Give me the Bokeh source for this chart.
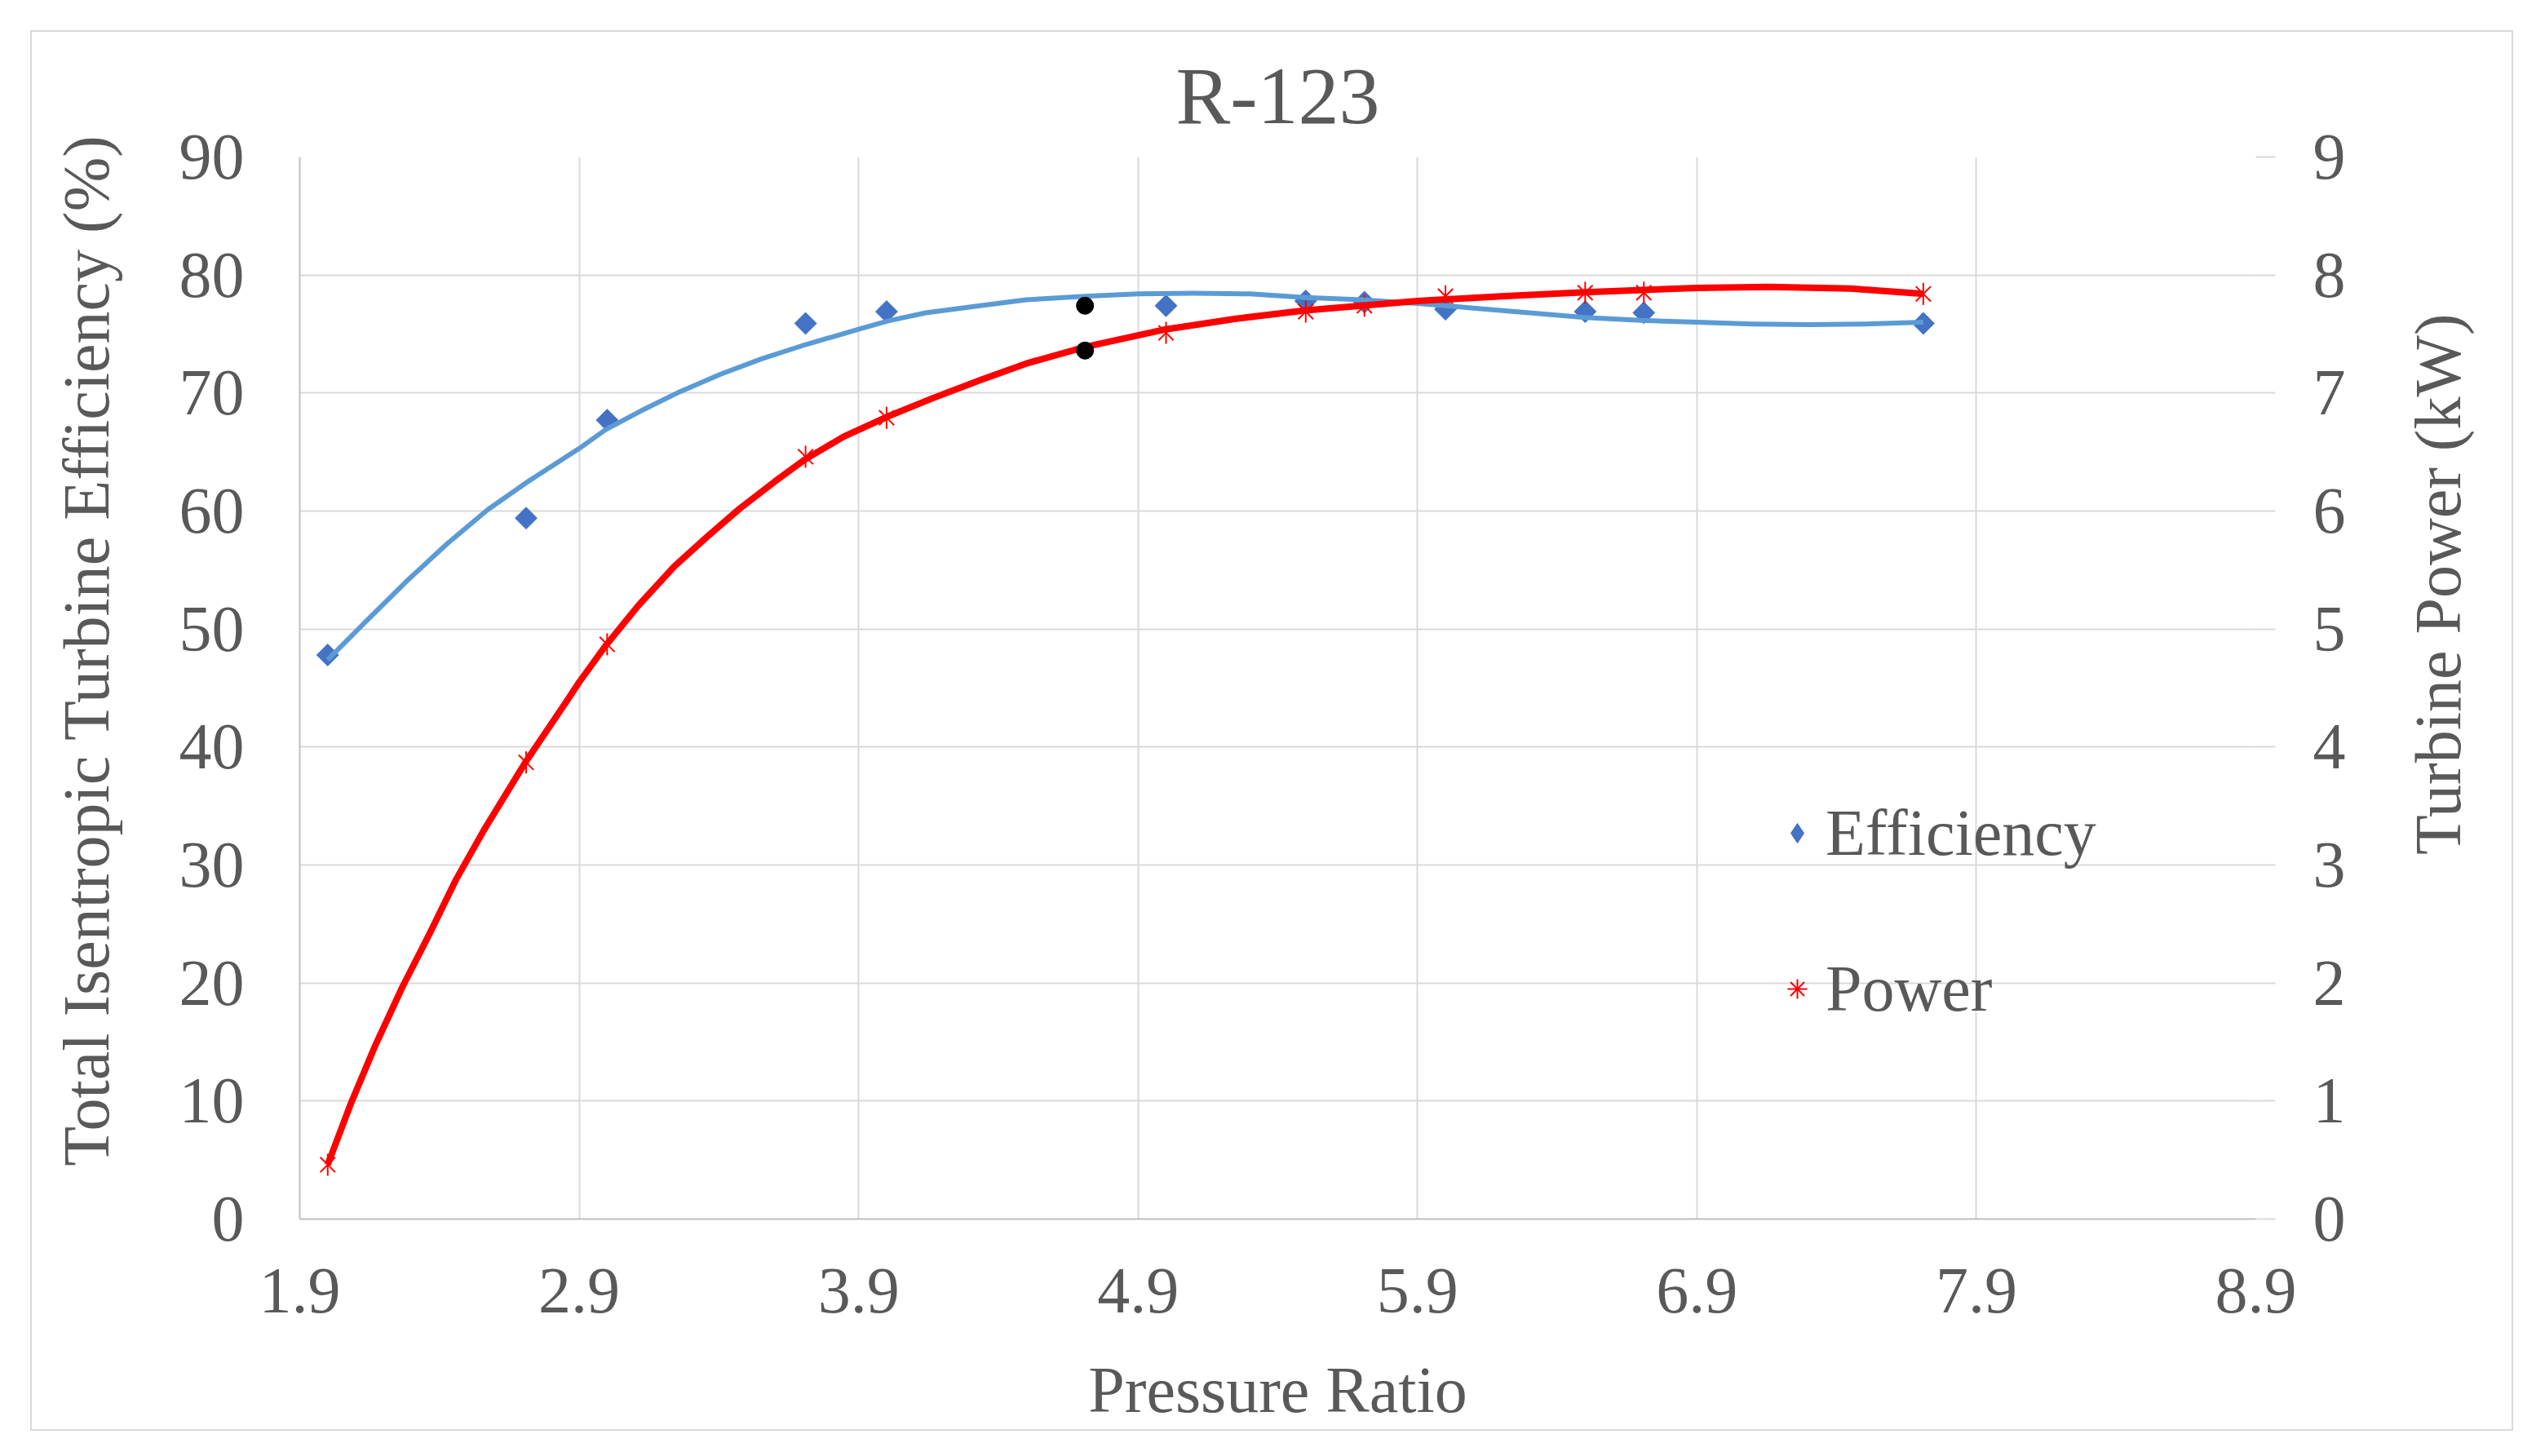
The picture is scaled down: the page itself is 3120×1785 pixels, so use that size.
import math

from bokeh.embed import file_html
from bokeh.models import FixedTicker, Label, Legend, LegendItem, LinearAxis, Range1d
from bokeh.plotting import figure
from bokeh.resources import INLINE

# measured points
pressure_ratio = [2.0, 2.71, 3.0, 3.71, 4.0, 5.0, 5.5, 5.71, 6.0, 6.5, 6.71, 7.71]
efficiency = [47.8, 59.4, 67.7, 75.9, 76.9, 77.4, 77.8, 77.7, 77.1, 76.9, 76.8, 75.9]
power = [0.46, 3.87, 4.87, 6.46, 6.79, 7.51, 7.69, 7.74, 7.82, 7.85, 7.85, 7.84]

# design point (black dots)
design_ratio = [4.71]
design_efficiency = [77.4]
design_power = [7.36]

# trend lines
eff_trend_x = [2.0, 2.135, 2.28, 2.426, 2.572, 2.717, 2.9, 2.995, 3.122, 3.259, 3.406,
               3.553, 3.71, 3.9, 4.003, 4.14, 4.335, 4.5, 4.71, 4.9, 5.1, 5.3, 5.5,
               5.7, 5.9, 6.1, 6.3, 6.5, 6.7, 6.9, 7.1, 7.3, 7.5, 7.71]
eff_trend = [47.4, 50.6, 54.0, 57.2, 60.1, 62.5, 65.3, 66.9, 68.5, 70.1, 71.6,
             72.9, 74.1, 75.4, 76.1, 76.8, 77.4, 77.9, 78.2, 78.4, 78.45, 78.4, 78.1,
             77.9, 77.6, 77.2, 76.8, 76.4, 76.15, 76.0, 75.85, 75.8, 75.85, 76.0]
pow_trend_x = [2.0, 2.083, 2.17, 2.268, 2.365, 2.46, 2.56, 2.71, 2.85, 2.9, 2.995, 3.112,
               3.24, 3.357, 3.474, 3.6, 3.71, 3.846, 4.003, 4.169, 4.335, 4.5, 4.71, 5.0,
               5.25, 5.5, 5.9, 6.2, 6.5, 6.9, 7.16, 7.45, 7.71]
pow_trend = [0.46, 0.98, 1.47, 1.97, 2.42, 2.88, 3.30, 3.88, 4.37, 4.55, 4.86, 5.20,
             5.53, 5.78, 6.02, 6.25, 6.44, 6.63, 6.80, 6.96, 7.11, 7.25, 7.39, 7.54,
             7.63, 7.70, 7.78, 7.82, 7.855, 7.89, 7.90, 7.885, 7.84]

x_ticks = [1.9, 2.9, 3.9, 4.9, 5.9, 6.9, 7.9, 8.9]
eff_ticks = [0, 10, 20, 30, 40, 50, 60, 70, 80, 90]
pow_ticks = [0, 1, 2, 3, 4, 5, 6, 7, 8, 9]

FONT = "Liberation Serif"
TEXT = "#595959"
GRID = "#D9D9D9"
BLUE = "#4472C4"
LINE_BLUE = "#5B9BD5"
RED = "#FF0000"

p = figure(width=3044, height=1717, x_range=Range1d(1.9, 8.9), y_range=Range1d(0, 90),
           output_backend="svg", toolbar_location=None,
           min_border_left=328, min_border_right=318, min_border_top=153, min_border_bottom=262)
p.styles = {"margin-left": "37px", "margin-top": "37px", "border": "2px solid #D9D9D9"}
p.extra_y_ranges = {"power": Range1d(0, 9)}
p.outline_line_color = None

p.title.text = "R-123"
p.title.align = "center"
p.title.text_font = FONT
p.title.text_font_size = "100px"
p.title.text_font_style = "normal"
p.title.text_color = TEXT
p.title.standoff = 39

p.xgrid.grid_line_color = GRID
p.xgrid.grid_line_width = 2
p.ygrid.grid_line_color = GRID
p.ygrid.grid_line_width = 2

p.xaxis.ticker = FixedTicker(ticks=x_ticks)
p.yaxis.ticker = FixedTicker(ticks=eff_ticks)

right = LinearAxis(y_range_name="power", ticker=FixedTicker(ticks=pow_ticks))
p.add_layout(right, "right")

for ax in p.axis:
    ax.major_label_text_font = FONT
    ax.major_label_text_font_size = "80px"
    ax.major_label_text_color = TEXT
    ax.minor_tick_line_color = None
    ax.major_tick_line_color = None
    ax.major_tick_in = 0
    ax.major_tick_out = 0
    ax.axis_line_color = "#BFBFBF"
    ax.axis_line_width = 2
    ax.major_label_standoff = 68

p.xaxis.major_label_standoff = 61
right.axis_line_color = None
right.major_tick_line_color = GRID
right.major_tick_line_width = 2
right.major_tick_out = 24
right.major_label_standoff = 46

# axis titles: labels in the side panels, placed as in the original
title_style = dict(text_align="center", text_baseline="middle",
                   text_font=FONT, text_font_size="80px", text_color=TEXT)
p.add_layout(Label(x=1.138, y=48.2, text="Total Isentropic Turbine Efficiency (%)",
                   angle=math.pi / 2, **title_style), "left")
p.add_layout(Label(x=9.551, y=53.8, text="Turbine Power (kW)",
                   angle=math.pi / 2, **title_style), "right")
p.add_layout(Label(x=5.4, y=-14.5, text="Pressure Ratio", **title_style), "below")

# markers
p.scatter(pressure_ratio, efficiency, marker="square", size=19, angle=math.pi / 4,
          fill_color=BLUE, line_color=BLUE)
p.scatter(pressure_ratio, power, y_range_name="power", marker="x", size=26,
          line_color=RED, line_width=2)
p.scatter(pressure_ratio, power, y_range_name="power", marker="dash", size=27,
          angle=math.pi / 2, line_color=RED, line_width=2)

# trend lines
p.line(eff_trend_x, eff_trend, line_color=LINE_BLUE, line_width=6, line_join="round")
p.line(pow_trend_x, pow_trend, y_range_name="power", line_color=RED, line_width=8,
       line_join="round")

p.scatter(design_ratio, design_efficiency, size=21, color="black")
p.scatter(design_ratio, design_power, y_range_name="power", size=21, color="black")

# legend glyphs (not drawn in the plot itself)
leg_eff = p.scatter(pressure_ratio, efficiency, marker="diamond",
                    fill_color=BLUE, line_color=BLUE, visible=False)
leg_pow = p.scatter(pressure_ratio, power, y_range_name="power", marker="asterisk",
                    line_color=RED, line_width=2, visible=False)

legend = Legend(items=[LegendItem(label="Efficiency", renderers=[leg_eff]),
                       LegendItem(label="Power", renderers=[leg_pow])],
                location=(1806, 236), glyph_width=60, glyph_height=92, label_height=92,
                label_standoff=5, spacing=99, padding=0, margin=0,
                background_fill_alpha=0, border_line_color=None,
                label_text_font=FONT, label_text_font_size="80px", label_text_color=TEXT)
p.add_layout(legend)

open("out.html", "w").write(file_html(p, INLINE))
